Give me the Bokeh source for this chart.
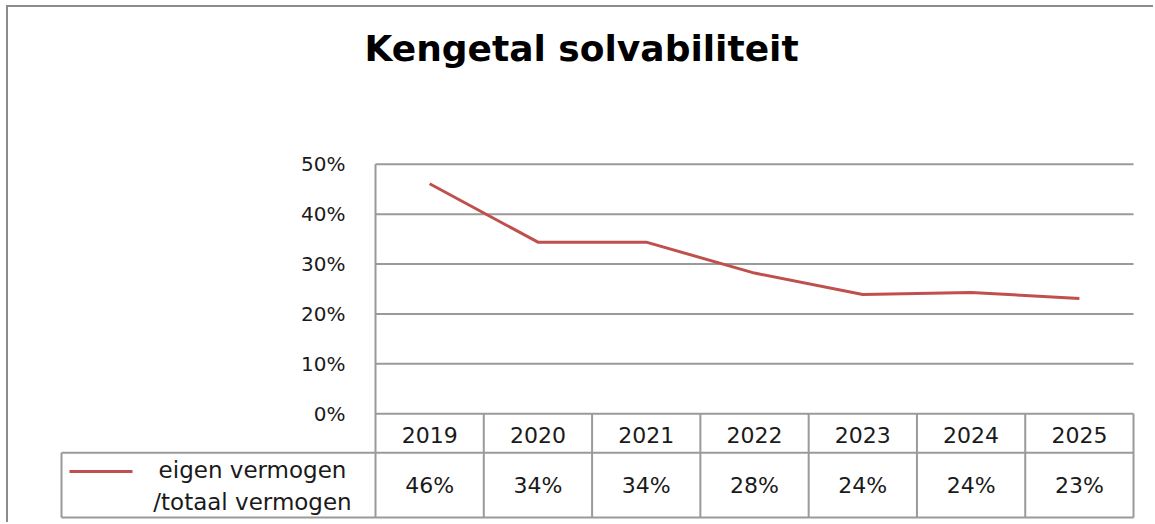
from bokeh.plotting import figure
from bokeh.models import FixedTicker, NumeralTickFormatter, ColumnDataSource
from bokeh.embed import file_html
from bokeh.resources import INLINE
from bokeh.core.properties import value

# ---------------- data ----------------
title_text = "Kengetal solvabiliteit"
years = ["2019", "2020", "2021", "2022", "2023", "2024", "2025"]
solvency = [0.461, 0.344, 0.344, 0.282, 0.239, 0.243, 0.231]
value_labels = ["46%", "34%", "34%", "28%", "24%", "24%", "23%"]
y_ticks = [0.0, 0.1, 0.2, 0.3, 0.4, 0.5]
series_name = "eigen vermogen /totaal vermogen"

# ---------------- layout helpers (page pixels -> data) ----------------
ORIGIN_X, ORIGIN_Y = 8, 7          # page position of the canvas (via CSS margin)
W, H = 1145, 515
B_LEFT, B_RIGHT, B_TOP, B_BOTTOM = 50, 18, 78, 2
COL = 108.29           # px per category column
X0_PAGE = 375.0        # page x of the plot-area left edge
Y0_PAGE = 413.0        # page y of 0%
PX_PER_UNIT = 500.0    # px per 100%

def px(page_x):
    return (page_x - X0_PAGE) / COL

def py(page_y):
    return (Y0_PAGE - page_y) / PX_PER_UNIT

def ty(page_baseline, size):
    # text glyph anchor correction (observed offset of rendered baseline)
    return py(page_baseline - 0.37 * size)

x_start = px(ORIGIN_X + B_LEFT)
x_end = px(ORIGIN_X + W - B_RIGHT)
y_end = py(ORIGIN_Y + B_TOP)
y_start = py(ORIGIN_Y + H - B_BOTTOM)

n = len(years)
xs = [i + 0.5 for i in range(n)]

p = figure(width=W, height=H, output_backend="svg", toolbar_location=None,
           x_range=(x_start, x_end), y_range=(y_start, y_end),
           x_axis_location=None, y_axis_location="left",
           min_border_left=B_LEFT, min_border_right=B_RIGHT,
           min_border_top=B_TOP, min_border_bottom=B_BOTTOM,
           title=title_text)
p.outline_line_color = None
p.grid.visible = False
p.background_fill_color = "white"
p.border_fill_color = "white"
p.styles = {"margin-left": f"{ORIGIN_X}px", "margin-top": f"{ORIGIN_Y}px",
            "box-shadow": "-1px -1px 0 1px #8c8c8c"}

# title
p.title.align = "left"
p.title.offset = 364 - (ORIGIN_X + B_LEFT)
p.title.standoff = 36
p.title.vertical_align = "bottom"
p.title.text_font = "DejaVu Sans"
p.title.text_font_style = "bold"
p.title.text_font_size = "36px"
p.title.text_color = "#000000"

# y axis placed at the plot-area edge
ax = p.yaxis[0]
ax.fixed_location = px(354)
ax.ticker = FixedTicker(ticks=y_ticks)
ax.formatter = NumeralTickFormatter(format="0%")
ax.axis_line_color = None
ax.major_tick_line_color = None
ax.minor_tick_line_color = None
ax.major_label_standoff = 3
ax.major_label_text_font = "DejaVu Sans"
ax.major_label_text_font_size = "20px"
ax.major_label_text_color = "#1a1a1a"

GRID = "#9a9a9a"
row_split = py(452)
tbl_bottom = py(517)
legend_left = px(61)

# horizontal gridlines (0% line is the table's top border)
p.segment(x0=[0] * len(y_ticks), x1=[n] * len(y_ticks), y0=y_ticks, y1=y_ticks,
          line_color=GRID, line_width=2)
# left edge of plot area, down through the table
p.segment(x0=[0], x1=[0], y0=[max(y_ticks)], y1=[tbl_bottom], line_color=GRID, line_width=2)
# column separators of the data table
p.segment(x0=list(range(1, n + 1)), x1=list(range(1, n + 1)),
          y0=[0] * n, y1=[tbl_bottom] * n, line_color=GRID, line_width=2)
# table row lines
p.segment(x0=[legend_left, legend_left], x1=[n, n], y0=[row_split, tbl_bottom],
          y1=[row_split, tbl_bottom], line_color=GRID, line_width=2)
p.segment(x0=[legend_left], x1=[legend_left], y0=[row_split], y1=[tbl_bottom],
          line_color=GRID, line_width=2)

# data line
RED = "#c0504d"
src = ColumnDataSource(dict(x=xs, y=solvency, year=years, lab=value_labels))
p.line("x", "y", source=src, line_color=RED, line_width=3, line_join="round")

# data table texts
p.text(x="x", y=ty(442, 22), text="year", source=src, text_align="center",
       text_baseline="alphabetic", text_font=value("DejaVu Sans"),
       text_font_size="22px", text_color="#1a1a1a")
p.text(x="x", y=ty(493, 22), text="lab", source=src, text_align="center",
       text_baseline="alphabetic", text_font=value("DejaVu Sans"),
       text_font_size="22px", text_color="#1a1a1a")

# legend key in the table
p.segment(x0=[px(69)], x1=[px(132)], y0=[py(471)], y1=[py(471)],
          line_color=RED, line_width=3)
name_lines = series_name.replace(" /", "\n/").split("\n")
p.text(x=[px(252)] * len(name_lines), y=[ty(478, 23), ty(510, 23)], text=name_lines,
       text_align="center", text_baseline="alphabetic",
       text_font=value("DejaVu Sans"), text_font_size="23px", text_color="#1a1a1a")

open("out.html", "w").write(file_html(p, INLINE))
